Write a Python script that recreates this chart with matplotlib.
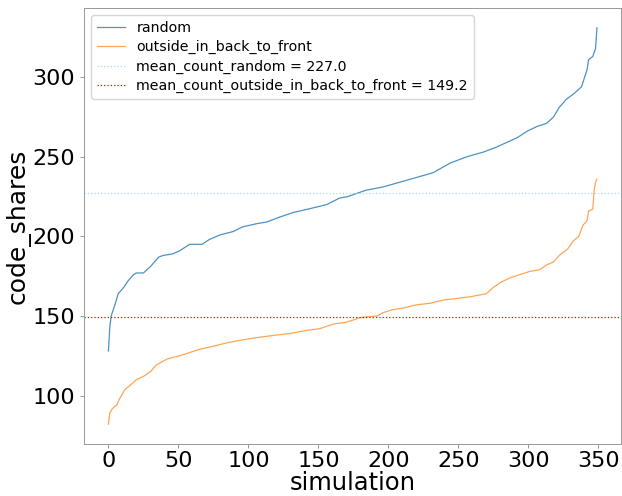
import matplotlib
matplotlib.use("Agg")
import matplotlib.pyplot as plt

# simulation index (x) and sorted code_shares (y)
random_x = [0, 1, 2, 5, 7, 11, 14, 18, 20, 25, 30, 33, 36, 39, 46, 51, 58, 67, 72, 80,
            89, 96, 106, 113, 122, 132, 142, 156, 165, 171, 184, 196, 208, 220, 232,
            244, 256, 268, 277, 292, 299, 306, 313, 318, 322, 327, 333, 338, 342, 343,
            346, 348, 349]
random_y = [128, 143, 150, 158, 164, 168, 172, 176, 177, 177, 181, 184, 187, 188, 189,
            191, 195, 195, 198, 201, 203, 206, 208, 209, 212, 215, 217, 220, 224, 225,
            229, 231, 234, 237, 240, 246, 250, 253, 256, 262, 266, 269, 271, 275, 281,
            286, 290, 294, 305, 311, 313, 318, 331]

outside_x = [0, 1, 3, 6, 8, 12, 15, 20, 25, 30, 34, 42, 51, 58, 65, 75, 84, 96, 103, 111,
             120, 130, 142, 151, 161, 170, 180, 192, 196, 203, 211, 220, 230, 239, 249,
             258, 270, 275, 280, 287, 294, 301, 308, 313, 318, 322, 328, 332, 336, 339,
             342, 343, 346, 347, 348, 349]
outside_y = [82, 89, 92, 94, 98, 104, 106, 110, 112, 115, 119, 123, 125, 127, 129, 131,
             133, 135, 136, 137, 138, 139, 141, 142, 145, 146, 149, 150, 152, 154, 155,
             157, 158, 160, 161, 162, 164, 168, 171, 174, 176, 178, 179, 182, 184, 188,
             192, 197, 200, 207, 210, 216, 217, 229, 234, 236]

mean_random = 227.0
mean_outside = 149.2

series_labels = ["random", "outside_in_back_to_front"]
x_ticks = [0, 50, 100, 150, 200, 250, 300, 350]
y_ticks = [100, 150, 200, 250, 300]

fig = plt.figure(figsize=(6.22, 4.96), dpi=100)
ax = fig.add_axes([0.135, 0.1048, 0.864, 0.879])

ax.plot(random_x, random_y, color="#1f77b4", lw=0.9, alpha=0.8, label=series_labels[0])
ax.plot(outside_x, outside_y, color="#ff7f0e", lw=0.9, alpha=0.7, label=series_labels[1])
ax.axhline(mean_random, color="lightblue", ls=":", lw=0.9,
           label=f"mean_count_random = {mean_random:.1f}")
ax.axhline(mean_outside, color="red", ls=":", lw=0.9,
           label=f"mean_count_outside_in_back_to_front = {mean_outside:.1f}")

ax.set_xticks(x_ticks)
ax.set_yticks(y_ticks)
ax.set_xlabel("simulation", fontsize=17.5, labelpad=0)
ax.set_ylabel("code_shares", fontsize=18, labelpad=1.5)
ax.tick_params(labelsize=16, color="#888888", width=0.6, length=3)
ax.tick_params(axis="x", pad=2)
for s in ax.spines.values():
    s.set_color("#999999")
    s.set_linewidth(0.7)

ax.legend(loc="upper left", fontsize=10.2, framealpha=0.8, labelspacing=0.38)

fig.savefig("out.png", dpi=100)
